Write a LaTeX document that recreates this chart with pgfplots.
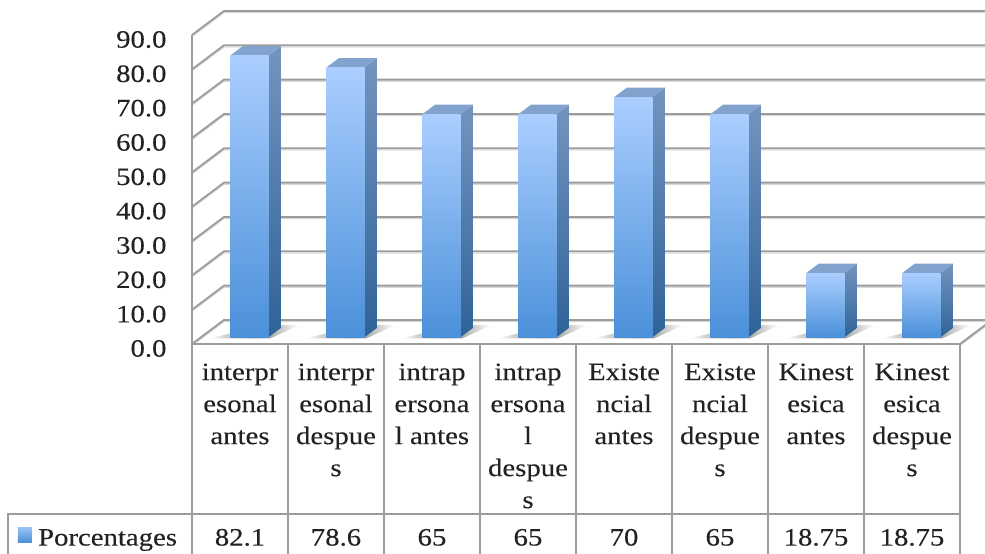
\documentclass[border=0pt]{standalone}
\usepackage{fontspec}
\setmainfont[FakeStretch=1.15,FakeBold=0.2]{Liberation Serif}
\usepackage{pgfplots}
\usepackage{pgfplotstable}
\pgfplotsset{compat=1.18}

\definecolor{gridc}{HTML}{9C9C9C}
\definecolor{gridl}{HTML}{D8D8D8}
\definecolor{frontt}{HTML}{AACEFF}
\definecolor{frontb}{HTML}{4B90D9}
\definecolor{sidet}{HTML}{7494BE}
\definecolor{sideb}{HTML}{2F6399}
\definecolor{topc}{HTML}{82A3CD}
\definecolor{txt}{HTML}{222222}

% wall and floor lines: left wall, then back wall
\pgfplotstableread{
x y
0 10
0.333 17
8.333 17
nan nan
0 20
0.333 27
8.333 27
nan nan
0 30
0.333 37
8.333 37
nan nan
0 40
0.333 47
8.333 47
nan nan
0 50
0.333 57
8.333 57
nan nan
0 60
0.333 67
8.333 67
nan nan
0 70
0.333 77
8.333 77
nan nan
0 80
0.333 87
8.333 87
nan nan
0 90
0.333 97
8.333 97
nan nan
0 0
0.333 7
8.333 7
nan nan
8 0
8.333 7
}\wallgrid

\pgfplotsset{
  front/.style={ybar,bar width=38pt,draw=none,top color=frontt,bottom color=frontb,shift={(9.3pt,6.6pt)}},
  sidef/.style={draw=none,top color=sidet,bottom color=sideb,shift={(9.3pt,6.6pt)}},
  topf/.style={draw=none,fill=topc,shift={(9.3pt,6.6pt)}},
  floorsh/.style={draw=none,left color=white,right color=white,middle color=black!50,shift={(9.3pt,6.6pt)}},
}
\tikzset{val/.style={anchor=base,text=txt,font=\fontsize{25}{32}\selectfont}}

\begin{document}
\begin{tikzpicture}
\path[use as bounding box] (-192pt,-210pt) rectangle (793pt,344pt);
\begin{axis}[
  scale only axis,width=768pt,height=309pt,
  xmin=0,xmax=8,ymin=0,ymax=90,clip=false,
  axis line style={draw=none},
  major tick length=0pt,
  unbounded coords=jump,
  ytick={0,10,...,90},
  xtick={0.5,1.5,...,7.5},
  xticklabels={
    {interpr\\esonal\\antes},{interpr\\esonal\\despue\\s},
    {intrap\\ersona\\l antes},{intrap\\ersona\\l\\despue\\s},
    {Existe\\ncial\\antes},{Existe\\ncial\\despue\\s},
    {Kinest\\esica\\antes},{Kinest\\esica\\despue\\s}},
  xticklabel style={align=center,anchor=north,yshift=-16pt,text=txt,
    font=\fontsize{25}{32}\selectfont},
  yticklabel style={anchor=east,xshift=-22pt,yshift=-4.5pt,text=txt,
    font=\fontsize{25}{30}\selectfont,
    /pgf/number format/assume math mode=true,
    /pgf/number format/fixed,/pgf/number format/fixed zerofill,
    /pgf/number format/precision=1},
]
% walls
\addplot[gridl,line width=1.3pt,yshift=-1.6pt] table[x=x,y=y] {\wallgrid};
\addplot[gridc,line width=1.8pt] table[x=x,y=y] {\wallgrid};
\addplot[gridc,line width=1.8pt] coordinates {(0,90) (0,0) (8,0)};

% floor shadows
\addplot[floorsh] coordinates {(0.083,-0.3) (0.72,-0.3) (1.02,3.6) (0.66,3.6)} -- cycle;
\addplot[floorsh] coordinates {(1.083,-0.3) (1.72,-0.3) (2.02,3.6) (1.66,3.6)} -- cycle;
\addplot[floorsh] coordinates {(2.083,-0.3) (2.72,-0.3) (3.02,3.6) (2.66,3.6)} -- cycle;
\addplot[floorsh] coordinates {(3.083,-0.3) (3.72,-0.3) (4.02,3.6) (3.66,3.6)} -- cycle;
\addplot[floorsh] coordinates {(4.083,-0.3) (4.72,-0.3) (5.02,3.6) (4.66,3.6)} -- cycle;
\addplot[floorsh] coordinates {(5.083,-0.3) (5.72,-0.3) (6.02,3.6) (5.66,3.6)} -- cycle;
\addplot[floorsh] coordinates {(6.083,-0.3) (6.72,-0.3) (7.02,3.6) (6.66,3.6)} -- cycle;
\addplot[floorsh] coordinates {(7.083,-0.3) (7.72,-0.3) (8.02,3.6) (7.66,3.6)} -- cycle;

% side faces
\addplot[sidef] coordinates {(0.698,0) (0.83,2.77) (0.83,84.87) (0.698,82.1)} -- cycle;
\addplot[sidef] coordinates {(1.698,0) (1.83,2.77) (1.83,81.37) (1.698,78.6)} -- cycle;
\addplot[sidef] coordinates {(2.698,0) (2.83,2.77) (2.83,67.77) (2.698,65)} -- cycle;
\addplot[sidef] coordinates {(3.698,0) (3.83,2.77) (3.83,67.77) (3.698,65)} -- cycle;
\addplot[sidef] coordinates {(4.698,0) (4.83,2.77) (4.83,72.77) (4.698,70)} -- cycle;
\addplot[sidef] coordinates {(5.698,0) (5.83,2.77) (5.83,67.77) (5.698,65)} -- cycle;
\addplot[sidef] coordinates {(6.698,0) (6.83,2.77) (6.83,21.52) (6.698,18.75)} -- cycle;
\addplot[sidef] coordinates {(7.698,0) (7.83,2.77) (7.83,21.52) (7.698,18.75)} -- cycle;

% top faces
\addplot[topf] coordinates {(0.302,82.1) (0.698,82.1) (0.83,84.87) (0.434,84.87)} -- cycle;
\addplot[topf] coordinates {(1.302,78.6) (1.698,78.6) (1.83,81.37) (1.434,81.37)} -- cycle;
\addplot[topf] coordinates {(2.302,65) (2.698,65) (2.83,67.77) (2.434,67.77)} -- cycle;
\addplot[topf] coordinates {(3.302,65) (3.698,65) (3.83,67.77) (3.434,67.77)} -- cycle;
\addplot[topf] coordinates {(4.302,70) (4.698,70) (4.83,72.77) (4.434,72.77)} -- cycle;
\addplot[topf] coordinates {(5.302,65) (5.698,65) (5.83,67.77) (5.434,67.77)} -- cycle;
\addplot[topf] coordinates {(6.302,18.75) (6.698,18.75) (6.83,21.52) (6.434,21.52)} -- cycle;
\addplot[topf] coordinates {(7.302,18.75) (7.698,18.75) (7.83,21.52) (7.434,21.52)} -- cycle;

% front faces
\addplot[front] coordinates {(0.5,82.1)};
\addplot[front] coordinates {(1.5,78.6)};
\addplot[front] coordinates {(2.5,65)};
\addplot[front] coordinates {(3.5,65)};
\addplot[front] coordinates {(4.5,70)};
\addplot[front] coordinates {(5.5,65)};
\addplot[front] coordinates {(6.5,18.75)};
\addplot[front] coordinates {(7.5,18.75)};

% data table
\draw[gridc,line width=1.6pt] (axis cs:-1.917,-61.5) -- (axis cs:-1.917,-49.5) -- (axis cs:8,-49.5);
\pgfplotsinvokeforeach{0,...,8}{
  \draw[gridc,line width=1.6pt] (axis cs:#1,0) -- (axis cs:#1,-61.5);
}
\shade[top color=frontt!80!frontb,bottom color=frontb] (axis cs:-1.813,-53.5) rectangle (axis cs:-1.667,-57.7);
\node[val,anchor=base west] at (axis cs:-1.64,-58.7) {Porcentages};
\node[val] at (axis cs:0.5,-58.7) {82.1};
\node[val] at (axis cs:1.5,-58.7) {78.6};
\node[val] at (axis cs:2.5,-58.7) {65};
\node[val] at (axis cs:3.5,-58.7) {65};
\node[val] at (axis cs:4.5,-58.7) {70};
\node[val] at (axis cs:5.5,-58.7) {65};
\node[val] at (axis cs:6.5,-58.7) {18.75};
\node[val] at (axis cs:7.5,-58.7) {18.75};
\end{axis}
\end{tikzpicture}
\end{document}
